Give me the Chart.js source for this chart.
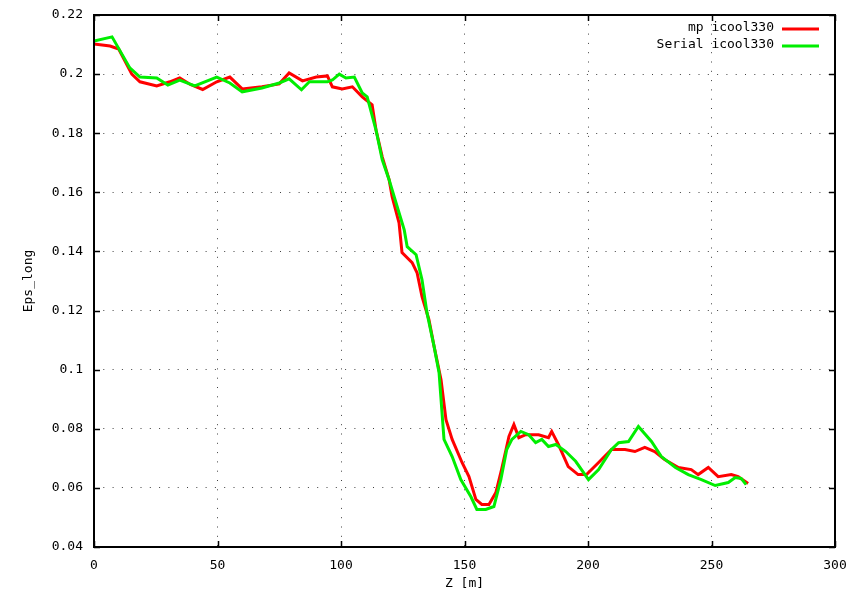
<!DOCTYPE html>
<html><head><meta charset="utf-8">
<script src="https://cdn.jsdelivr.net/npm/chart.js@4/dist/chart.umd.min.js"></script>
<style>html,body{margin:0;padding:0;background:#fff;} #wrap{width:852px;height:598px;}</style>
</head><body><div id="wrap"><canvas id="c" width="852" height="598"></canvas></div>
<script>
const seriesNames = ['mp icool330', 'Serial icool330'];
const xTitle = 'Z [m]';
const yTitle = 'Eps_long';
const xTicks = [0, 50, 100, 150, 200, 250, 300];
const yTicks = [0.04, 0.06, 0.08, 0.10, 0.12, 0.14, 0.16, 0.18, 0.20, 0.22];

const mpZ = [0, 6.5, 10, 15.3, 18.6, 25.4, 30.7, 34.7, 39, 44, 49.7, 55, 60, 68, 75, 79, 84.4, 90, 94.5, 96.5, 100.5, 104.6, 108.6, 112.6, 114.2, 116.7, 119.5, 120.7, 123.5, 124.7, 128.8, 130.8, 132.8, 135.6, 137.7, 140.5, 142.5, 145, 149, 151.8, 154.6, 157, 159.9, 162.7, 165, 168, 170, 172, 174.8, 180, 184, 185.3, 188, 192, 196, 199.4, 204.3, 209.5, 215, 219, 223, 227, 231, 236.6, 241.8, 244.6, 248.7, 252.7, 258, 260.8, 264.8];
const mpEps = [0.2102, 0.2095, 0.2085, 0.2, 0.1974, 0.196, 0.1974, 0.1987, 0.1965, 0.1948, 0.1974, 0.199, 0.195, 0.1957, 0.1967, 0.2004, 0.1977, 0.199, 0.1994, 0.1957, 0.195, 0.1957, 0.1923, 0.1896, 0.181, 0.172, 0.1642, 0.1585, 0.1497, 0.1396, 0.1362, 0.1328, 0.1247, 0.1169, 0.1078, 0.0966, 0.0831, 0.0764, 0.0686, 0.0638, 0.0561, 0.0544, 0.0544, 0.0584, 0.0662, 0.0774, 0.0814, 0.077, 0.078, 0.078, 0.077, 0.0791, 0.0747, 0.0672, 0.0645, 0.0645, 0.0686, 0.073, 0.073, 0.0723, 0.0737, 0.0723, 0.0696, 0.0669, 0.0662, 0.0645, 0.0669, 0.0638, 0.0645, 0.0638, 0.0615];

const serialZ = [0, 7.3, 14.5, 18.6, 25.4, 29.9, 34.7, 40.8, 49.7, 55, 60, 68, 75, 79, 84, 87.2, 94.5, 96.5, 99.3, 102, 105.4, 108.6, 110.6, 114.2, 116.7, 119.5, 122.3, 125.6, 126.8, 130.4, 132.8, 134.8, 137.7, 139.7, 141.7, 145, 148.5, 152.6, 155, 158.6, 161.9, 164.7, 167.1, 169.2, 172.8, 176, 178.8, 181.3, 184, 187, 191, 195, 200.2, 204.3, 209.5, 212.4, 216.4, 220.4, 225.7, 229.7, 235.4, 240.6, 245.9, 251.5, 256.8, 259.6, 262, 264];
const serialEps = [0.2112, 0.2126, 0.2021, 0.199, 0.1987, 0.1963, 0.198, 0.196, 0.199, 0.197, 0.194, 0.1953, 0.197, 0.1984, 0.1947, 0.1974, 0.1974, 0.198, 0.2, 0.1987, 0.199, 0.1936, 0.1923, 0.181, 0.171, 0.1642, 0.1564, 0.1473, 0.1416, 0.1389, 0.1304, 0.1193, 0.1078, 0.099, 0.0764, 0.0706, 0.0628, 0.057, 0.0527, 0.0527, 0.0537, 0.0628, 0.073, 0.0764, 0.0791, 0.078, 0.0753, 0.0764, 0.074, 0.0747, 0.0723, 0.069, 0.0628, 0.0662, 0.073, 0.0753, 0.0757, 0.0808, 0.0757, 0.0706, 0.0669, 0.0645, 0.0628, 0.0608, 0.0618, 0.0635, 0.0632, 0.0611];

const FONT = "'DejaVu Sans Mono', monospace";
const RED = '#ff0000', GREEN = '#00ee00';
const toPts = (xs, ys) => xs.map((x, i) => ({x: x, y: ys[i]}));

const framePlugin = {
  id: 'frame',
  afterDraw(chart) {
    const ctx = chart.ctx, a = chart.chartArea;
    const xs = chart.scales.x, ys = chart.scales.y;
    ctx.save();
    ctx.strokeStyle = '#000';
    ctx.lineWidth = 1.5;
    ctx.beginPath();
    xTicks.forEach(v => {
      const px = Math.round(xs.getPixelForValue(v)) + 0.5;
      ctx.moveTo(px, a.bottom); ctx.lineTo(px, a.bottom - 6);
      ctx.moveTo(px, a.top); ctx.lineTo(px, a.top + 6);
    });
    yTicks.forEach(v => {
      const py = Math.round(ys.getPixelForValue(v)) + 0.5;
      ctx.moveTo(a.left, py); ctx.lineTo(a.left + 6, py);
      ctx.moveTo(a.right, py); ctx.lineTo(a.right - 6, py);
    });
    ctx.stroke();
    ctx.lineWidth = 2;
    ctx.strokeRect(a.left, a.top, a.right - a.left, a.bottom - a.top);
    // legend
    ctx.font = '13px ' + FONT;
    ctx.textAlign = 'right';
    ctx.textBaseline = 'middle';
    ctx.fillStyle = '#000';
    chart.data.datasets.forEach((ds, i) => {
      const y = a.top + 13 + i * 17;
      ctx.fillText(ds.label, a.right - 61, y);
      ctx.strokeStyle = ds.borderColor;
      ctx.lineWidth = 3;
      ctx.beginPath();
      ctx.moveTo(a.right - 53, y + 1); ctx.lineTo(a.right - 16, y + 1);
      ctx.stroke();
    });
    ctx.restore();
  }
};

new Chart(document.getElementById('c'), {
  type: 'line',
  data: {
    datasets: [
      {label: seriesNames[0], data: toPts(mpZ, mpEps), borderColor: RED, backgroundColor: RED, borderWidth: 3, pointRadius: 0, tension: 0, order: 2},
      {label: seriesNames[1], data: toPts(serialZ, serialEps), borderColor: GREEN, backgroundColor: GREEN, borderWidth: 3, pointRadius: 0, tension: 0, order: 1}
    ]
  },
  options: {
    responsive: false,
    animation: false,
    layout: {padding: {left: 0, right: 17, top: 15, bottom: 0}},
    plugins: {legend: {display: false}, tooltip: {enabled: false}},
    scales: {
      x: {
        type: 'linear', min: 0, max: 300,
        afterBuildTicks: s => { s.ticks = xTicks.map(v => ({value: v})); },
        afterFit: s => { s.height = 51; s.paddingLeft = 0; s.paddingRight = 0; },
        ticks: {color: '#000', font: {family: FONT, size: 13}, padding: 11, maxRotation: 0, callback: v => String(v)},
        grid: {color: 'rgba(0,0,0,0.75)', lineWidth: 1, drawTicks: false},
        border: {display: false, dash: [1, 8.3]},
        title: {display: true, text: xTitle, color: '#000', font: {family: FONT, size: 13}, padding: {top: 0, bottom: 7}}
      },
      y: {
        type: 'linear', min: 0.04, max: 0.22,
        afterBuildTicks: s => { s.ticks = yTicks.map(v => ({value: v})); },
        afterFit: s => { s.width = 94; s.paddingTop = 0; s.paddingBottom = 0; },
        ticks: {color: '#000', font: {family: FONT, size: 13}, padding: 11, callback: v => String(+Number(v).toFixed(2))},
        grid: {color: 'rgba(0,0,0,0.75)', lineWidth: 1, drawTicks: false},
        border: {display: false, dash: [1, 8.3]},
        title: {display: true, text: yTitle, color: '#000', font: {family: FONT, size: 13}, padding: {top: 21, bottom: 0}}
      }
    }
  },
  plugins: [framePlugin]
});
</script>
</body></html>
